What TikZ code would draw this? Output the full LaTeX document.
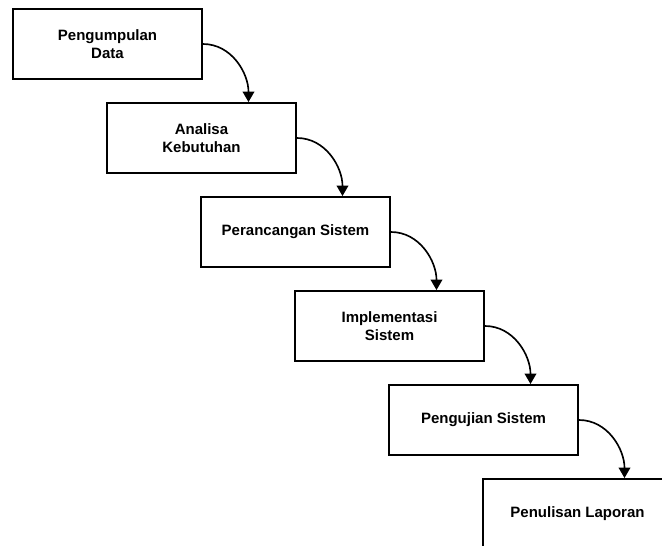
\documentclass[tikz,border=0pt]{standalone}
\usepackage{fontspec}
\setmainfont{Liberation Sans}
\usetikzlibrary{positioning,arrows.meta}

\begin{document}
\begin{tikzpicture}[node distance=2.82cm and 2.82cm,on grid,
   tahap/.style={draw,line width=1.6pt,minimum width=5.67cm,minimum height=2.1cm,
     align=center,font=\bfseries\fontsize{12.8}{15.5}\selectfont},
   panah/.style={-{Triangle[length=9pt,width=10pt]},line width=1.4pt,out=0,in=90}]
   \clip (0,0) rectangle (19.86,-16.38);
   \node[tahap] (kumpul) at (3.225,-1.32) {Pengumpulan\\Data};
   \node[tahap] (analisa) [below right=of kumpul] {Analisa\\Kebutuhan};
   \node[tahap] (rancang) [below right=of analisa] {Perancangan Sistem};
   \node[tahap] (implem) [below right=of rancang] {Implementasi\\Sistem};
   \node[tahap] (uji) [below right=of implem] {Pengujian Sistem};
   \node[tahap] (laporan) [below right=of uji] {Penulisan Laporan};
    \path
    (kumpul)  edge [panah] ([xshift=1.41cm]analisa.north)
    (analisa) edge [panah] ([xshift=1.41cm]rancang.north)
    (rancang) edge [panah] ([xshift=1.41cm]implem.north)
    (implem)  edge [panah] ([xshift=1.41cm]uji.north)
    (uji)     edge [panah] ([xshift=1.41cm]laporan.north);
\end{tikzpicture}
\end{document}
